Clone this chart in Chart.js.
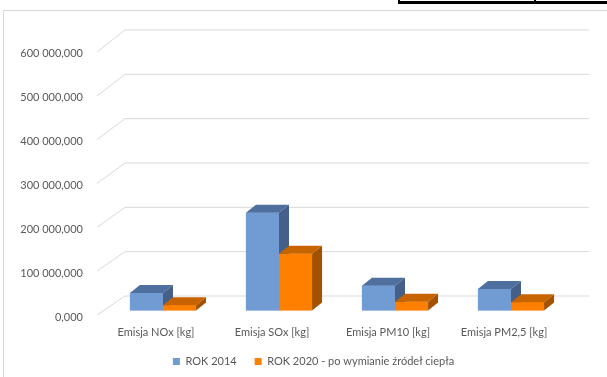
<!DOCTYPE html>
<html>
<head>
<meta charset="utf-8">
<script src="https://cdn.jsdelivr.net/npm/chart.js@4"></script>
<style>
  html, body { margin: 0; padding: 0; background: #ffffff; }
  #wrap { width: 607px; height: 377px; position: relative; }
</style>
</head>
<body>
<div id="wrap"><canvas id="c" width="607" height="377"></canvas></div>
<script>
// ---- data ----
const categories = ['Emisja NOx [kg]', 'Emisja SOx [kg]', 'Emisja PM10 [kg]', 'Emisja PM2,5 [kg]'];
const rok2014 = [40000000, 222000000, 56000000, 49000000];
const rok2020 = [12000000, 129000000, 20000000, 19000000];
const seriesNames = ['ROK 2014', 'ROK 2020 - po wymianie źródeł ciepła'];
const yTickValues = [0, 100000000, 200000000, 300000000, 400000000, 500000000, 600000000];
const yTickLabels = ['0,000', '100 000,000', '200 000,000', '300 000,000', '400 000,000', '500 000,000', '600 000,000'];

// ---- styles ----
const FONT = 'Lato';
const TXT = '#595959';
const GRID = '#d9d9d9';
const faces = [
  { front: '#709bd3', top: '#4f6f9f', side: '#445f88' },
  { front: '#ff8000', top: '#c86400', side: '#a45200' }
];
const BAR_DX = 10, BAR_DY = 8;           // bar depth
const FRONT_DX = -8, FRONT_DY = 5.5;     // bar plane -> front plane
const BACK_DX = 20, BACK_DY = -16.5;     // bar plane -> back wall

const threeD = {
  id: 'threeD',
  beforeDraw(chart) {
    const ctx = chart.ctx;
    ctx.save();
    ctx.strokeStyle = '#d9d9d9';
    ctx.lineWidth = 1;
    ctx.strokeRect(3.5, 10.5, 620, 400);
    // fragment of table border at top
    ctx.fillStyle = '#000000';
    ctx.fillRect(398, 1, 209, 3);
    ctx.fillRect(398, 0, 2, 4);
    ctx.fillRect(534, 0, 2, 3);
    ctx.restore();
  },
  beforeDatasetsDraw(chart) {
    const { ctx, chartArea: a, scales: { y } } = chart;
    ctx.save();
    ctx.strokeStyle = GRID;
    ctx.lineWidth = 1;
    y.ticks.forEach(t => {
      const py = y.getPixelForValue(t.value);
      const fy = a.top + FRONT_DY + (py - a.top) * (263 / 264);
      const by = a.top + BACK_DY + (py - a.top) * (266 / 264);
      ctx.beginPath();
      ctx.moveTo(a.left + FRONT_DX, fy);
      ctx.lineTo(a.left + BACK_DX, by);
      ctx.lineTo(a.right + BACK_DX, by);
      ctx.stroke();
    });
    ctx.restore();
  },
  afterDatasetsDraw(chart) {
    const ctx = chart.ctx;
    const metas = chart.data.datasets.map((d, i) => chart.getDatasetMeta(i));
    ctx.save();
    for (let i = 0; i < categories.length; i++) {
      metas.forEach((meta, di) => {
        const el = meta.data[i];
        const p = el.getProps(['x', 'y', 'base', 'width'], true);
        const l = p.x - p.width / 2, r = p.x + p.width / 2;
        const top = p.y, base = p.base;
        const f = faces[di];
        ctx.fillStyle = f.front;
        ctx.fillRect(l, top, r - l, base - top);
        ctx.fillStyle = f.top;
        ctx.beginPath();
        ctx.moveTo(l, top);
        ctx.lineTo(l + BAR_DX, top - BAR_DY);
        ctx.lineTo(r + BAR_DX, top - BAR_DY);
        ctx.lineTo(r, top);
        ctx.closePath();
        ctx.fill();
        ctx.fillStyle = f.side;
        ctx.beginPath();
        ctx.moveTo(r, top);
        ctx.lineTo(r + BAR_DX, top - BAR_DY);
        ctx.lineTo(r + BAR_DX, base - BAR_DY);
        ctx.lineTo(r, base);
        ctx.closePath();
        ctx.fill();
      });
    }
    ctx.restore();
  },
  afterLayout(chart) {
    const lg = chart.legend;
    if (lg) { lg.left += 29; lg.right += 29; }
  }
};

new Chart(document.getElementById('c'), {
  type: 'bar',
  data: {
    labels: categories,
    datasets: [
      { label: seriesNames[0], data: rok2014, backgroundColor: faces[0].front, borderWidth: 0 },
      { label: seriesNames[1], data: rok2020, backgroundColor: faces[1].front, borderWidth: 0 }
    ]
  },
  options: {
    responsive: false,
    animation: false,
    devicePixelRatio: 1,
    layout: { padding: { top: 46.5, right: 38, left: 0, bottom: 0 } },
    datasets: { bar: { barPercentage: 1, categoryPercentage: 0.57 } },
    plugins: {
      tooltip: { enabled: false },
      legend: {
        position: 'bottom',
        labels: {
          boxWidth: 7, boxHeight: 7, padding: 18,
          color: TXT,
          font: { family: FONT, size: 11 }
        }
      }
    },
    scales: {
      x: {
        grid: { display: false, drawTicks: false },
        border: { display: false },
        ticks: { color: TXT, font: { family: FONT, size: 11 }, padding: 15, labelOffset: -7, maxRotation: 0 },
        afterFit(s) { s.height = 27.5; }
      },
      y: {
        min: 0, max: 600000000,
        grid: { display: false, drawTicks: false },
        border: { display: false },
        afterBuildTicks(s) { s.ticks = yTickValues.map(v => ({ value: v })); },
        ticks: {
          color: TXT, font: { family: FONT, size: 11 }, padding: 22, labelOffset: 6.5,
          callback(v, idx) { return yTickLabels[yTickValues.indexOf(v)]; }
        },
        afterFit(s) { s.width = 105; }
      }
    }
  },
  plugins: [threeD]
});
</script>
</body>
</html>
